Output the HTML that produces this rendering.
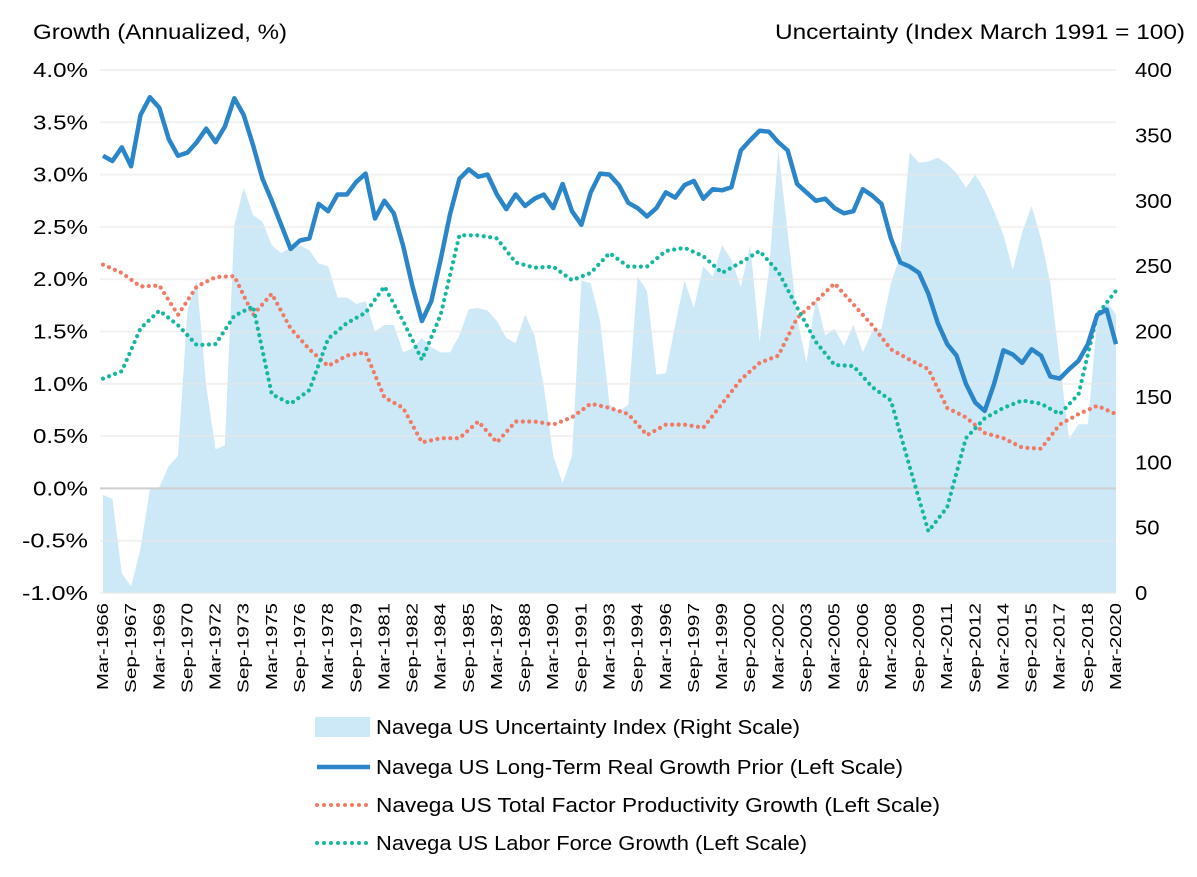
<!DOCTYPE html>
<html><head><meta charset="utf-8"><style>
body{margin:0;background:#fff;}
svg{display:block;font-family:"Liberation Sans",sans-serif;}
</style></head><body>
<svg id="chart" width="1197" height="877">
<text x="33" y="39" font-size="21" textLength="254" lengthAdjust="spacingAndGlyphs" fill="#000">Growth (Annualized, %)</text>
<text x="775" y="39" font-size="21" textLength="410" lengthAdjust="spacingAndGlyphs" fill="#000">Uncertainty (Index March 1991 = 100)</text>
<g id="area"></g><g id="grid"></g><g id="lines"></g><g id="axes"></g>
<g>
<rect x="315" y="717" width="55" height="20" fill="#cde8f6"/>
<text x="376" y="734" font-size="20" textLength="424" lengthAdjust="spacingAndGlyphs">Navega US Uncertainty Index (Right Scale)</text>
<line x1="317" y1="767" x2="370" y2="767" stroke="#2a86c8" stroke-width="4.5"/>
<text x="376" y="774" font-size="20" textLength="527" lengthAdjust="spacingAndGlyphs">Navega US Long-Term Real Growth Prior (Left Scale)</text>
<line x1="317" y1="805" x2="370" y2="805" stroke="#f07a64" stroke-width="4" stroke-linecap="round" stroke-dasharray="0 7"/>
<text x="376" y="812" font-size="20" textLength="564" lengthAdjust="spacingAndGlyphs">Navega US Total Factor Productivity Growth (Left Scale)</text>
<line x1="317" y1="843" x2="370" y2="843" stroke="#14b8a0" stroke-width="4" stroke-linecap="round" stroke-dasharray="0 7"/>
<text x="376" y="850" font-size="20" textLength="431" lengthAdjust="spacingAndGlyphs">Navega US Labor Force Growth (Left Scale)</text>
</g>
</svg>
<script>
// semiannual samples (every 2 quarters from Mar-1966)
const growth=[3.18,3.13,3.26,3.08,3.57,3.74,3.64,3.34,3.18,3.21,3.31,3.44,3.31,3.46,3.73,3.57,3.28,2.96,2.75,2.52,2.29,2.37,2.39,2.72,2.65,2.81,2.81,2.93,3.01,2.58,2.75,2.63,2.32,1.93,1.60,1.79,2.19,2.62,2.96,3.05,2.98,3.00,2.81,2.67,2.81,2.70,2.77,2.81,2.68,2.91,2.65,2.52,2.83,3.01,3.00,2.90,2.73,2.68,2.60,2.68,2.83,2.78,2.90,2.94,2.77,2.86,2.85,2.88,3.23,3.33,3.42,3.41,3.31,3.23,2.91,2.83,2.75,2.77,2.68,2.63,2.65,2.86,2.80,2.72,2.39,2.16,2.12,2.06,1.86,1.58,1.38,1.27,1.00,0.82,0.74,1.00,1.32,1.28,1.20,1.33,1.27,1.07,1.05,1.14,1.22,1.38,1.66,1.71,1.38];
const uncertainty=[75,72,15,5,34,79,81,97,105,216,239,158,110,113,281,310,289,284,266,260,264,266,262,252,250,226,226,221,223,200,205,205,184,187,195,188,184,184,197,217,218,216,208,195,191,213,197,158,105,84,105,239,237,208,144,139,144,242,231,167,168,205,239,218,250,242,266,255,234,266,192,247,339,276,210,176,226,197,202,189,205,184,200,202,237,258,337,329,330,333,328,321,310,320,308,292,274,247,276,296,271,237,176,118,129,129,210,223,213];
// annual samples (every 4 quarters from Mar-1966)
const tfp=[2.14,2.06,1.93,1.94,1.66,1.93,2.02,2.03,1.66,1.86,1.53,1.33,1.17,1.27,1.30,0.87,0.77,0.44,0.48,0.48,0.64,0.44,0.64,0.64,0.61,0.68,0.81,0.77,0.71,0.51,0.61,0.61,0.58,0.81,1.04,1.20,1.27,1.63,1.79,1.96,1.76,1.56,1.33,1.23,1.14,0.77,0.68,0.53,0.48,0.39,0.38,0.61,0.71,0.79,0.71];
const labor=[1.05,1.12,1.53,1.70,1.56,1.37,1.38,1.65,1.74,0.90,0.81,0.94,1.43,1.58,1.68,1.93,1.60,1.23,1.66,2.42,2.42,2.39,2.16,2.11,2.12,1.99,2.06,2.25,2.12,2.12,2.27,2.30,2.22,2.06,2.16,2.27,2.07,1.73,1.40,1.18,1.17,0.97,0.84,0.21,-0.41,-0.18,0.48,0.67,0.77,0.84,0.81,0.71,0.90,1.66,1.89];
const leftTicks=["-1.0%","-0.5%","0.0%","0.5%","1.0%","1.5%","2.0%","2.5%","3.0%","3.5%","4.0%"];
const rightTicks=["0","50","100","150","200","250","300","350","400"];
const xLabels=["Mar-1966","Sep-1967","Mar-1969","Sep-1970","Mar-1972","Sep-1973","Mar-1975","Sep-1976","Mar-1978","Sep-1979","Mar-1981","Sep-1982","Mar-1984","Sep-1985","Mar-1987","Sep-1988","Mar-1990","Sep-1991","Mar-1993","Sep-1994","Mar-1996","Sep-1997","Mar-1999","Sep-2000","Mar-2002","Sep-2003","Mar-2005","Sep-2006","Mar-2008","Sep-2009","Mar-2011","Sep-2012","Mar-2014","Sep-2015","Mar-2017","Sep-2018","Mar-2020"];

const NS="http://www.w3.org/2000/svg";
const X0=103,X1=1116,NQ=216,YT=70,YB=593;
function xq(q){return X0+(X1-X0)*q/NQ;}
function yL(v){return YB-(v+1)/5*(YB-YT);}
function yR(v){return YB-v/400*(YB-YT);}
function mk(tag,attrs,parent){const e=document.createElementNS(NS,tag);for(const k in attrs)e.setAttribute(k,attrs[k]);parent.appendChild(e);return e;}
const grid=document.getElementById('grid'),axes=document.getElementById('axes'),area=document.getElementById('area'),lines=document.getElementById('lines');

leftTicks.forEach((t,i)=>{
  const v=-1+i*0.5,y=yL(v);
  const zero=Math.abs(v)<1e-9;
  const g=mk('line',{x1:X0-3,x2:X1,y1:y,y2:y,stroke:zero?'#cfcfcf':'#e8e8e8','stroke-width':2,'stroke-opacity':zero?1:0.6},grid);
  
  
  const tx=mk('text',{x:88,y:y+7,'font-size':20,'text-anchor':'end',textLength:t.length===5?66:55,lengthAdjust:'spacingAndGlyphs'},axes);tx.textContent=t;
  
  
});
rightTicks.forEach((t,i)=>{
  const y=yR(+t);
  const tx=mk('text',{x:1135,y:y+7,'font-size':20,textLength:t.length*12.3,lengthAdjust:'spacingAndGlyphs'},axes);tx.textContent=t;
  
  
});
xLabels.forEach((t,i)=>{
  const x=xq(i*6);
  const tx=mk('text',{x:0,y:0,'font-size':16,'text-anchor':'end',textLength:t.startsWith('Sep')?90:87,lengthAdjust:'spacingAndGlyphs',transform:`translate(${x+5},603) rotate(-90)`},axes);tx.textContent=t;
  
  
});
let d=`M${xq(0)},${YB}`;
uncertainty.forEach((v,i)=>{d+=` L${xq(i*2).toFixed(1)},${yR(v).toFixed(1)}`;});
d+=` L${xq((uncertainty.length-1)*2)},${YB} Z`;
const ar=mk('path',{d:d,fill:'#cde8f6'},area);


function poly(arr,step,attrs,name){
  const pts=arr.map((v,i)=>xq(i*step).toFixed(1)+','+yL(v).toFixed(1)).join(' ');
  const p=mk('polyline',Object.assign({points:pts,fill:'none'},attrs),lines);
  
  
}
poly(tfp,4,{stroke:'#f07a64','stroke-width':4.2,'stroke-linecap':'round','stroke-dasharray':'0 6.5'},'tfp-growth-line');
poly(labor,4,{stroke:'#14b8a0','stroke-width':4.2,'stroke-linecap':'round','stroke-dasharray':'0 6.5'},'labor-force-growth-line');
poly(growth,2,{stroke:'#2a86c8','stroke-width':4.5,'stroke-linejoin':'round'},'real-growth-prior-line');
</script>
</body></html>
